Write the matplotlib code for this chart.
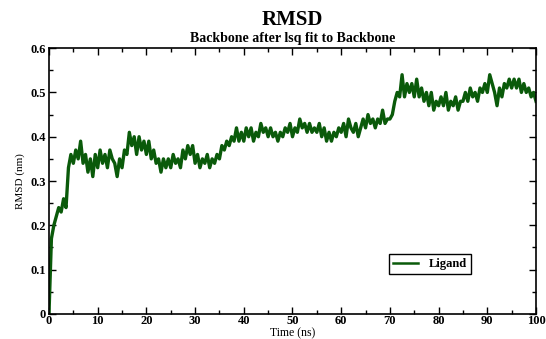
import numpy as np
import matplotlib
matplotlib.use("Agg")
import matplotlib.pyplot as plt
from matplotlib.ticker import MultipleLocator

# RMSD trace, one value every 0.5 ns
time_step = 0.5
rmsd = [
    0.00, 0.17, 0.20, 0.22, 0.24, 0.23, 0.26, 0.24, 0.33, 0.36,
    0.34, 0.37, 0.35, 0.39, 0.34, 0.36, 0.32, 0.35, 0.31, 0.36,
    0.33, 0.37, 0.34, 0.36, 0.33, 0.37, 0.35, 0.34, 0.31, 0.35,
    0.33, 0.37, 0.36, 0.41, 0.38, 0.40, 0.36, 0.40, 0.37, 0.39,
    0.36, 0.39, 0.35, 0.37, 0.34, 0.35, 0.32, 0.35, 0.33, 0.35,
    0.33, 0.36, 0.34, 0.35, 0.33, 0.37, 0.35, 0.38, 0.36, 0.38,
    0.34, 0.36, 0.33, 0.35, 0.34, 0.36, 0.33, 0.35, 0.34, 0.36,
    0.35, 0.38, 0.37, 0.39, 0.38, 0.40, 0.39, 0.42, 0.39, 0.41,
    0.39, 0.42, 0.40, 0.42, 0.39, 0.41, 0.40, 0.43, 0.41, 0.42,
    0.40, 0.42, 0.40, 0.41, 0.39, 0.41, 0.40, 0.42, 0.41, 0.43,
    0.40, 0.42, 0.41, 0.44, 0.42, 0.43, 0.41, 0.43, 0.41, 0.42,
    0.41, 0.43, 0.40, 0.42, 0.39, 0.41, 0.39, 0.41, 0.40, 0.42,
    0.41, 0.43, 0.40, 0.44, 0.42, 0.41, 0.43, 0.40, 0.42, 0.44,
    0.42, 0.45, 0.43, 0.44, 0.42, 0.44, 0.43, 0.46, 0.43, 0.44,
    0.44, 0.45, 0.48, 0.50, 0.49, 0.54, 0.49, 0.52, 0.50, 0.52,
    0.49, 0.53, 0.49, 0.51, 0.48, 0.50, 0.47, 0.50, 0.46, 0.48,
    0.47, 0.49, 0.47, 0.50, 0.46, 0.48, 0.47, 0.49, 0.46, 0.48,
    0.48, 0.50, 0.48, 0.51, 0.49, 0.50, 0.48, 0.51, 0.50, 0.52,
    0.50, 0.54, 0.52, 0.50, 0.47, 0.51, 0.49, 0.52, 0.51, 0.53,
    0.51, 0.53, 0.51, 0.53, 0.50, 0.52, 0.50, 0.51, 0.49, 0.50,
    0.48,
]
time_ns = np.arange(len(rmsd)) * time_step

plt.rcParams['font.family'] = ['Liberation Serif', 'DejaVu Serif']
plt.rcParams['font.weight'] = 'bold'

fig = plt.figure(figsize=(5.46, 3.39), dpi=100)
ax = fig.add_axes([0.0897, 0.074, 0.892, 0.784])

ax.plot(time_ns, rmsd, color='#0a5a0a', lw=2.4, label='Ligand')

ax.set_xlim(0, 100)
ax.set_ylim(0, 0.6)
ax.xaxis.set_major_locator(MultipleLocator(10))
ax.xaxis.set_minor_locator(MultipleLocator(5))
ax.yaxis.set_minor_locator(MultipleLocator(0.05))
ax.set_yticks([0, 0.1, 0.2, 0.3, 0.4, 0.5, 0.6])
ax.set_yticklabels(['0', '0.1', '0.2', '0.3', '0.4', '0.5', '0.6'])
ax.tick_params(which='both', direction='in', top=True, right=True,
               labelsize=9, width=1.0, pad=2)
ax.tick_params(axis='x', which='both', pad=1)
ax.tick_params(which='major', length=5)
ax.tick_params(which='minor', length=3)
for sp in ax.spines.values():
    sp.set_linewidth(1.2)

ax.set_xlabel('Time (ns)', fontsize=8.5, labelpad=0)
ax.set_ylabel('RMSD (nm)', fontsize=8, labelpad=4)

fig.text(0.536, 0.94, 'RMSD', ha='center', va='center', fontsize=15, fontweight='bold')
fig.text(0.536, 0.885, 'Backbone after lsq fit to Backbone', ha='center', va='center',
         fontsize=10, fontweight='bold')

leg = ax.legend(loc='lower left', bbox_to_anchor=(0.698, 0.149), borderaxespad=0,
                fancybox=False, edgecolor='black', framealpha=1, fontsize=9,
                handlelength=2.0, borderpad=0.35)
leg.get_frame().set_linewidth(1.0)
for line in leg.get_lines():
    line.set_linewidth(1.8)

fig.savefig('out.png', dpi=100)
